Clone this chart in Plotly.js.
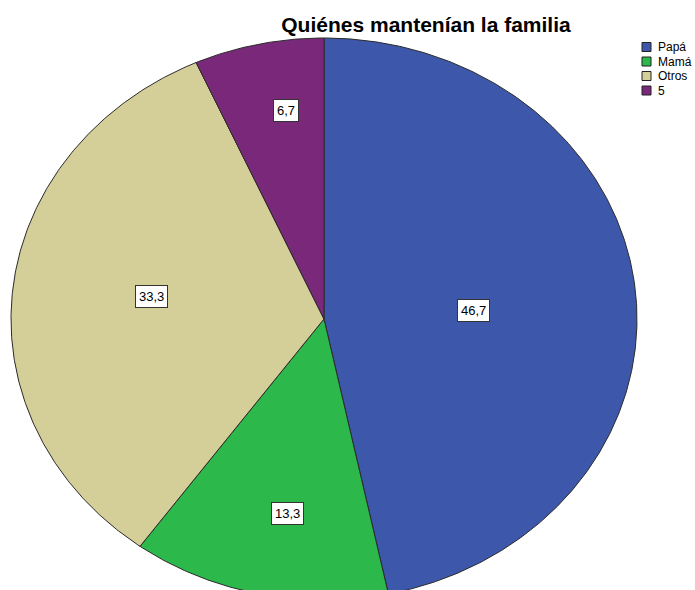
<!DOCTYPE html>
<html>
<head>
<meta charset="utf-8">
<script src="https://cdn.plot.ly/plotly-3.0.1.min.js"></script>
<style>
  html, body { margin: 0; padding: 0; background: #fff; }
  #chart { width: 695px; height: 590px; }
</style>
</head>
<body>
<div id="chart"></div>
<script>
// ---- data ----
const categories = ['Papá', 'Mamá', 'Otros', '5'];
const values = [46.7, 13.3, 33.3, 6.7];
const valueLabels = ['46,7', '13,3', '33,3', '6,7'];
const colors = ['#3D58AB', '#2DB84B', '#D4CE99', '#7A297A'];
const chartTitle = 'Quiénes mantenían la familia';

// ---- geometry (pixel-unit axes) ----
const W = 695, H = 590;
const cx = 324, cy = 319, rx = 313, ry = 281;
// label placement as fractions of the radii along each slice's mid angle
const labelFx = [0.48, 0.553, 0.553, 0.584];
const labelFy = [0.29, 0.709, 0.78, 0.76];

const total = values.reduce((a, b) => a + b, 0);
const traces = [];
const annotations = [];
let cum = 0;
values.forEach((v, i) => {
  const a0 = cum / total * 2 * Math.PI;
  cum += v;
  const a1 = cum / total * 2 * Math.PI;
  const xs = [cx], ys = [cy];
  const n = Math.max(8, Math.ceil((a1 - a0) / (Math.PI / 360)));
  for (let k = 0; k <= n; k++) {
    const a = a0 + (a1 - a0) * k / n;
    xs.push(cx + rx * Math.sin(a));
    ys.push(cy - ry * Math.cos(a));
  }
  xs.push(cx); ys.push(cy);
  traces.push({
    type: 'scatter', mode: 'lines', x: xs, y: ys,
    fill: 'toself', fillcolor: colors[i],
    line: { color: '#2a2a2a', width: 1 },
    name: categories[i], hoverinfo: 'name', showlegend: false
  });
  const am = (a0 + a1) / 2;
  annotations.push({
    x: cx + rx * labelFx[i] * Math.sin(am),
    y: cy - ry * labelFy[i] * Math.cos(am),
    xref: 'x', yref: 'y', showarrow: false,
    text: valueLabels[i],
    font: { family: 'Liberation Sans, Arial, sans-serif', size: 13, color: '#000' },
    bgcolor: '#ffffff', bordercolor: '#333333', borderwidth: 1, borderpad: 3
  });
});

// ---- manual legend ----
const shapes = [];
const legTop = 47, legStep = 14.5;
categories.forEach((c, i) => {
  const yc = legTop + i * legStep;
  shapes.push({
    type: 'rect', xref: 'x', yref: 'y',
    x0: 642, x1: 651, y0: yc - 4.5, y1: yc + 4.5,
    fillcolor: colors[i], line: { color: '#222', width: 1 }
  });
  annotations.push({
    x: 656, y: yc, xref: 'x', yref: 'y', xanchor: 'left', yanchor: 'middle',
    showarrow: false, text: c,
    font: { family: 'Liberation Sans, Arial, sans-serif', size: 12, color: '#000' }
  });
});

const layout = {
  width: W, height: H,
  margin: { l: 0, r: 0, t: 0, b: 0 },
  paper_bgcolor: '#fff', plot_bgcolor: '#fff',
  showlegend: false,
  title: {
    text: '<b>' + chartTitle + '</b>',
    x: 426 / W, xanchor: 'center', xref: 'paper',
    y: 1 - 25 / H, yanchor: 'middle', yref: 'container',
    font: { family: 'Liberation Sans, Arial, sans-serif', size: 21, color: '#000' }
  },
  xaxis: { range: [0, W], visible: false, fixedrange: true },
  yaxis: { range: [H, 0], visible: false, fixedrange: true },
  shapes: shapes,
  annotations: annotations
};

Plotly.newPlot('chart', traces, layout, { displayModeBar: false, staticPlot: true });
</script>
</body>
</html>
